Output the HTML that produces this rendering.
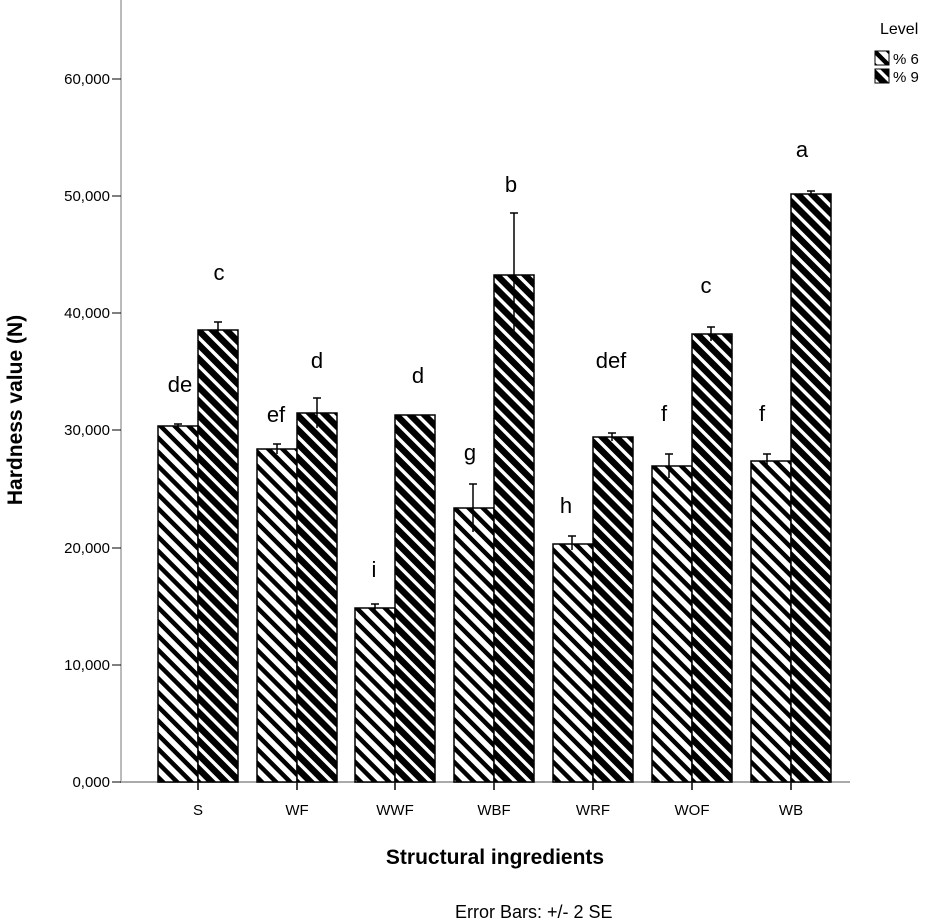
<!DOCTYPE html>
<html><head><style>body{margin:0;background:#fff}svg{display:block}text{font-family:"Liberation Sans",Arial,sans-serif}</style></head>
<body>
<svg width="934" height="922" viewBox="0 0 934 922" xmlns="http://www.w3.org/2000/svg">
<defs>
<pattern id="p6" patternUnits="userSpaceOnUse" width="10" height="10" patternTransform="rotate(-45)">
<rect width="10" height="10" fill="#fff"/><rect width="4.5" height="10" fill="#000"/>
</pattern>
<pattern id="p9" patternUnits="userSpaceOnUse" width="10" height="10" patternTransform="rotate(-45)">
<rect width="10" height="10" fill="#000"/><rect width="3.5" height="10" fill="#fff"/>
</pattern>
</defs>
<line x1="121" y1="0" x2="121" y2="783" stroke="#bbb" stroke-width="2"/>
<line x1="120" y1="782" x2="850" y2="782" stroke="#aaa" stroke-width="2"/>
<g font-size="15" text-anchor="end" fill="#000">
<text x="110" y="84">60,000</text><line x1="112" y1="79" x2="121" y2="79" stroke="#000"/>
<text x="110" y="201">50,000</text><line x1="112" y1="196" x2="121" y2="196" stroke="#000"/>
<text x="110" y="318">40,000</text><line x1="112" y1="313" x2="121" y2="313" stroke="#000"/>
<text x="110" y="435">30,000</text><line x1="112" y1="430" x2="121" y2="430" stroke="#000"/>
<text x="110" y="553">20,000</text><line x1="112" y1="548" x2="121" y2="548" stroke="#000"/>
<text x="110" y="670">10,000</text><line x1="112" y1="665" x2="121" y2="665" stroke="#000"/>
<text x="110" y="787">0,000</text><line x1="112" y1="782" x2="121" y2="782" stroke="#000"/>
</g>
<g stroke="#000" stroke-width="1.5">
<rect x="158" y="426" width="40" height="356" fill="url(#p6)"/><rect x="198" y="330" width="40" height="452" fill="url(#p9)"/>
<rect x="257" y="449" width="40" height="333" fill="url(#p6)"/><rect x="297" y="413" width="40" height="369" fill="url(#p9)"/>
<rect x="355" y="608" width="40" height="174" fill="url(#p6)"/><rect x="395" y="415" width="40" height="367" fill="url(#p9)"/>
<rect x="454" y="508" width="40" height="274" fill="url(#p6)"/><rect x="494" y="275" width="40" height="507" fill="url(#p9)"/>
<rect x="553" y="544" width="40" height="238" fill="url(#p6)"/><rect x="593" y="437" width="40" height="345" fill="url(#p9)"/>
<rect x="652" y="466" width="40" height="316" fill="url(#p6)"/><rect x="692" y="334" width="40" height="448" fill="url(#p9)"/>
<rect x="751" y="461" width="40" height="321" fill="url(#p6)"/><rect x="791" y="194" width="40" height="588" fill="url(#p9)"/>
</g>
<g stroke="#000" stroke-width="1.5">
<path d="M178 424v4M174 424h8M218 322v16M214 322h8"/>
<path d="M277 444v10M273 444h8M317 398v30M313 398h8"/>
<path d="M375 604v8M371 604h8"/>
<path d="M473 484v48M469 484h8M514 213v124M510 213h8"/>
<path d="M572 536v14M568 536h8M612 433v8M608 433h8"/>
<path d="M669 454v24M665 454h8M711 327v14M707 327h8"/>
<path d="M767 454v14M763 454h8M811 191v6M807 191h8"/>
</g>
<g stroke="#000" stroke-width="1.5">
<path d="M198 783v7M297 783v7M395 783v7M494 783v7M593 783v7M692 783v7M791 783v7"/>
</g>
<g font-size="15" text-anchor="middle">
<text x="198" y="815">S</text><text x="297" y="815">WF</text><text x="395" y="815">WWF</text><text x="494" y="815">WBF</text><text x="593" y="815">WRF</text><text x="692" y="815">WOF</text><text x="791" y="815">WB</text>
</g>
<g font-size="22" text-anchor="middle">
<text x="180" y="392">de</text><text x="219" y="280">c</text>
<text x="276" y="422">ef</text><text x="317" y="368">d</text>
<text x="374" y="577">i</text><text x="418" y="383">d</text>
<text x="470" y="460">g</text><text x="511" y="192">b</text>
<text x="566" y="513">h</text><text x="611" y="368">def</text>
<text x="664" y="421">f</text><text x="706" y="293">c</text>
<text x="762" y="421">f</text><text x="802" y="157">a</text>
</g>
<text x="0" y="0" transform="translate(22,410) rotate(-90)" font-size="21" font-weight="bold" text-anchor="middle">Hardness value (N)</text>
<text x="495" y="864" font-size="21" font-weight="bold" text-anchor="middle">Structural ingredients</text>
<text x="455" y="918" font-size="18">Error Bars: +/- 2 SE</text>
<text x="880" y="34" font-size="16">Level</text>
<rect x="875" y="51" width="14" height="14" fill="url(#p6)" stroke="#000"/>
<text x="893" y="64" font-size="15">% 6</text>
<rect x="875" y="69" width="14" height="14" fill="url(#p9)" stroke="#000"/>
<text x="893" y="82" font-size="15">% 9</text>
</svg>
</body></html>
